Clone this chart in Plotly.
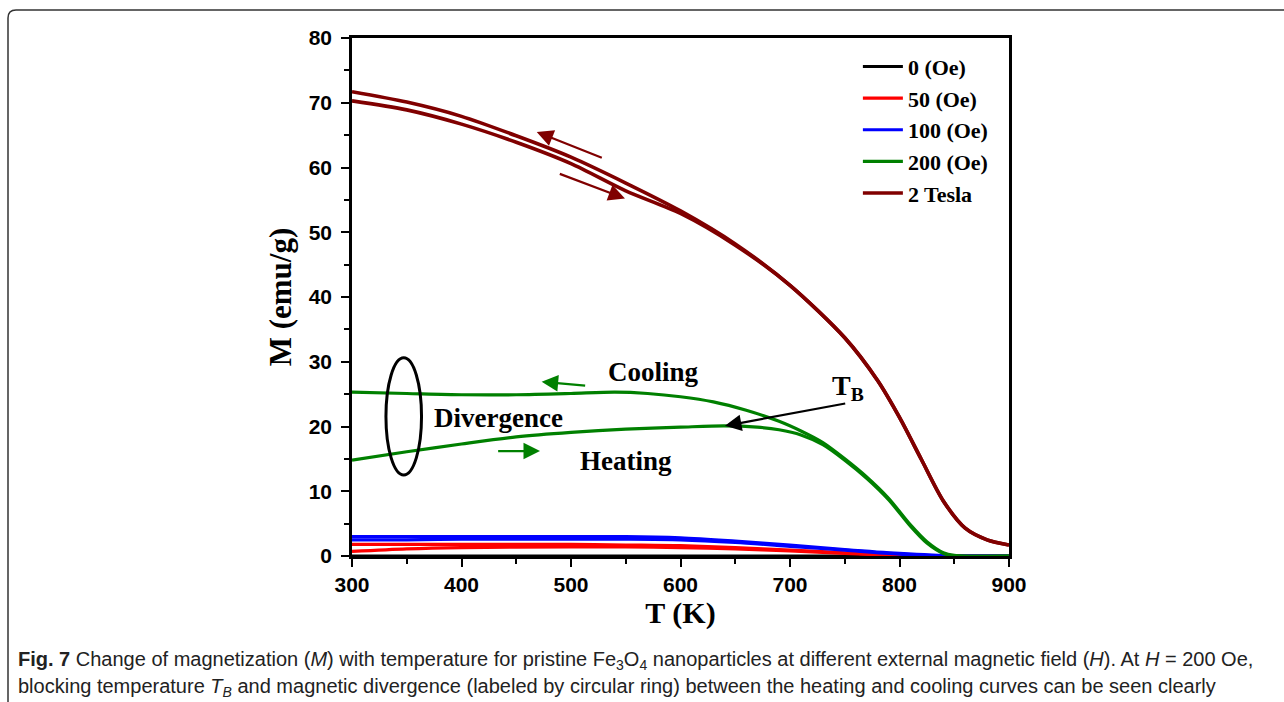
import plotly.graph_objects as go

# ---------------- data ----------------
T_2T = [300, 350, 400, 450, 500, 550, 600, 650, 700, 750, 780, 800, 820, 840, 860, 880, 900]
M_2T_cool = [71.7, 70.1, 67.9, 64.9, 61.6, 57.6, 53.3, 48.2, 41.8, 33.7, 27.1, 21.4, 14.9, 8.5, 4.3, 2.5, 1.7]
M_2T_heat = [70.3, 68.9, 66.7, 63.9, 60.6, 56.4, 52.9, 48.0, 41.8, 33.7, 27.1, 21.4, 14.9, 8.5, 4.3, 2.5, 1.7]

T_200_cool = [300, 350, 400, 450, 500, 540, 570, 600, 630, 660, 690, 710, 730, 750, 770, 790, 810, 825, 840, 850, 900]
M_200_cool = [25.3, 25.1, 24.9, 24.9, 25.1, 25.3, 25.1, 24.6, 23.8, 22.5, 20.8, 19.3, 17.5, 15.0, 12.2, 8.9, 4.8, 2.2, 0.5, 0.1, 0.0]
T_200_heat = [300, 350, 400, 450, 500, 550, 600, 640, 670, 690, 710, 730, 750, 770, 790, 810, 825, 840, 850, 900]
M_200_heat = [14.8, 16.1, 17.3, 18.4, 19.1, 19.6, 19.9, 20.1, 19.9, 19.5, 18.7, 17.2, 14.8, 12.0, 8.7, 4.6, 2.0, 0.4, 0.0, 0.0]

T_low = [300, 350, 400, 500, 550, 600, 650, 700, 750, 800, 850, 900]
M_100_cool = [3.0, 3.0, 3.0, 3.0, 3.0, 2.8, 2.3, 1.7, 1.0, 0.4, 0.0, 0.0]
M_100_heat = [2.5, 2.5, 2.6, 2.6, 2.6, 2.5, 2.1, 1.5, 0.9, 0.3, 0.0, 0.0]
M_50_cool = [1.8, 1.8, 1.8, 1.8, 1.7, 1.6, 1.3, 0.9, 0.5, 0.1, 0.0, 0.0]
M_50_heat = [0.7, 1.1, 1.3, 1.4, 1.4, 1.3, 1.1, 0.8, 0.4, 0.1, 0.0, 0.0]
M_0 = [0.0, 0.0, 0.0, 0.0, 0.0, 0.0, 0.0, 0.0, 0.0, 0.0, 0.0, 0.0]

legend_names = ["0 (Oe)", "50 (Oe)", "100 (Oe)", "200 (Oe)", "2 Tesla"]
colors = ["#000000", "#FF0000", "#0000FF", "#008000", "#800000"]

x_ticks = [300, 400, 500, 600, 700, 800, 900]
y_ticks = [0, 10, 20, 30, 40, 50, 60, 70, 80]

# ---------------- figure ----------------
W, H = 1284, 702
L, R, TOP, B = 352, 1009, 38, 556


def px(xp):
    return (xp - L) / (R - L)


def py(yp):
    return (B - yp) / (B - TOP)


fig = go.Figure()

groups = [
    [(T_low, M_0)],
    [(T_low, M_50_cool), (T_low, M_50_heat)],
    [(T_low, M_100_cool), (T_low, M_100_heat)],
    [(T_200_cool, M_200_cool), (T_200_heat, M_200_heat)],
    [(T_2T, M_2T_cool), (T_2T, M_2T_heat)],
]
widths = [3, 3.2, 3.2, 3.2, 3.6]

for i, pairs in enumerate(groups):
    for k, (tx, my) in enumerate(pairs):
        fig.add_trace(go.Scatter(
            x=tx, y=my, mode="lines", name=legend_names[i],
            legendgroup=legend_names[i], showlegend=(k == 0),
            line=dict(color=colors[i], width=widths[i], shape="spline", smoothing=0.8),
        ))

serif_bold = dict(family="Liberation Serif", color="black", weight="bold")

ann = []
# text labels
ann.append(dict(x=575, y=28.4, text="Cooling", showarrow=False, font=dict(size=27, **serif_bold)))
ann.append(dict(x=434, y=21.3, text="Divergence", showarrow=False, font=dict(size=27, **serif_bold)))
ann.append(dict(x=550, y=14.7, text="Heating", showarrow=False, font=dict(size=27, **serif_bold)))
ann.append(dict(x=753, y=26.0, text="T<sub>B</sub>", showarrow=False, font=dict(size=28, **serif_bold)))

# arrows (head at x,y ; tail at ax,ay)
arrows = [
    (468.7, 65.5, 529.5, 61.4, "#800000"),
    (549.3, 55.2, 488.4, 59.1, "#800000"),
    (473.2, 26.9, 514.3, 26.3, "#008000"),
    (471.7, 16.2, 432.1, 16.2, "#008000"),
    (640.6, 20.1, 751.8, 23.6, "#000000"),
]
for hx, hy, tx, ty, c in arrows:
    ann.append(dict(x=hx, y=hy, ax=tx, ay=ty, xref="x", yref="y", axref="x", ayref="y",
                    text="", showarrow=True, arrowhead=2, arrowsize=1.5, arrowwidth=2.2,
                    arrowcolor=c))

# caption
cap_font = dict(family="Liberation Sans", size=20, color="#222222")
ann.append(dict(xref="paper", yref="paper", x=px(16), y=py(660), xanchor="left", yanchor="middle",
                showarrow=False, align="left", font=cap_font,
                text="<b>Fig. 7</b> Change of magnetization (<i>M</i>) with temperature for pristine "
                     "Fe<sub>3</sub>O<sub>4</sub> nanoparticles at different external magnetic field (<i>H</i>). "
                     "At <i>H</i> = 200 Oe,"))
ann.append(dict(xref="paper", yref="paper", x=px(16), y=py(687), xanchor="left", yanchor="middle",
                showarrow=False, align="left", font=cap_font,
                text="blocking temperature <i>T</i><sub><i>B</i></sub> and magnetic divergence (labeled by "
                     "circular ring) between the heating and cooling curves can be seen clearly"))

shapes = []
# divergence ring
shapes.append(dict(type="circle", xref="x", yref="y", x0=331, x1=363.5, y0=12.5, y1=30.6,
                   line=dict(color="black", width=3)))
# outer rounded frame
r = 8
path = (f"M {px(8)},{py(710)} L {px(8)},{py(10 + r)} Q {px(8)},{py(10)} {px(8 + r)},{py(10)} "
        f"L {px(1290)},{py(10)}")
shapes.append(dict(type="path", xref="paper", yref="paper", path=path,
                   line=dict(color="#333333", width=1.5), layer="above"))

fig.update_layout(
    width=W, height=H,
    margin=dict(l=L, r=W - R, t=TOP, b=H - B),
    paper_bgcolor="white", plot_bgcolor="white",
    annotations=ann, shapes=shapes,
    legend=dict(x=0.77, y=0.985, xanchor="left", yanchor="top",
                bgcolor="rgba(0,0,0,0)", font=dict(size=22, **serif_bold),
                tracegroupgap=0, itemwidth=40),
)

axis_common = dict(
    showgrid=False, zeroline=False, showline=True, linecolor="black", linewidth=2.5,
    mirror=True, ticks="outside", ticklen=8, tickwidth=2, tickcolor="black",
    tickfont=dict(family="Liberation Sans", size=21, color="black", weight="bold"),
)
fig.update_xaxes(range=[300, 900], tickvals=x_ticks, **axis_common,
                 minor=dict(ticks="outside", ticklen=5, tickwidth=2, tickcolor="black", dtick=50),
                 title=dict(text="T (K)", font=dict(size=30, **serif_bold), standoff=2))
fig.update_yaxes(range=[0, 80], tickvals=y_ticks, **axis_common, ticklabelstandoff=5,
                 minor=dict(ticks="outside", ticklen=5, tickwidth=2, tickcolor="black", dtick=5),
                 title=dict(text="M (emu/g)", font=dict(size=31, **serif_bold), standoff=8))

fig.write_html("out.html")
